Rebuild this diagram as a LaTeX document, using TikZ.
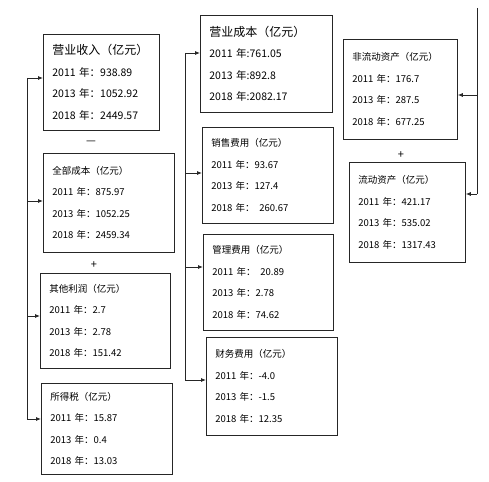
\documentclass[tikz,border=0pt]{standalone}
\usepackage{fontspec}
\setmainfont{Noto Sans CJK SC}
\usetikzlibrary{arrows.meta}
\tikzset{
  valbox/.style={draw=black!85,line width=0.8pt,anchor=north west,align=left,inner xsep=9pt,inner ysep=0pt,font=\fontsize{9.5}{21.5}\selectfont},
  bigbox/.style={valbox,font=\fontsize{10.5}{21.5}\selectfont},
  busline/.style={line width=0.8pt,black!85},
  busarr/.style={-{Latex[length=5pt,width=4pt]},line width=0.8pt,black!85},
  opsign/.style={font=\fontsize{11}{11}\selectfont,inner sep=0pt}
}
\newcommand{\boxtitle}[1]{{\fontsize{12}{21.5}\selectfont #1}}

\begin{document}
\begin{tikzpicture}[x=1pt,y=-1pt]
  \useasboundingbox (0,0) rectangle (489,481);
  % left column
  \node[bigbox,text width=98pt,minimum height=96pt] (income) at (43,34) {\boxtitle{营业收入（亿元）}\\2011 年：938.89\\2013 年：1052.92\\2018 年：2449.57};
  \node[opsign] (minus) at (91,143) {—};
  \node[valbox,text width=113pt,minimum height=99pt] (totalcost) at (43,153) {全部成本（亿元）\\2011 年：875.97\\2013 年：1052.25\\2018 年：2459.34};
  \node[opsign] (plusl) at (94,265) {+};
  \node[valbox,text width=112pt,minimum height=95pt] (otherprofit) at (40,273) {其他利润（亿元）\\2011 年：2.7\\2013 年：2.78\\2018 年：151.42};
  \node[valbox,text width=113pt,minimum height=91pt] (incometax) at (41,383) {所得税（亿元）\\2011 年：15.87\\2013 年：0.4\\2018 年：13.03};
  % middle column
  \node[bigbox,text width=114pt,minimum height=97pt] (opcost) at (200,15) {\boxtitle{营业成本（亿元）}\\2011 年:761.05\\2013 年:892.8\\2018 年:2082.17};
  \node[valbox,text width=113pt,minimum height=96pt] (salesfee) at (202,127) {销售费用（亿元）\\2011 年：93.67\\2013 年：127.4\\2018 年：\enspace 260.67};
  \node[valbox,text width=112pt,minimum height=96pt] (adminfee) at (203,234) {管理费用（亿元）\\2011 年：\enspace 20.89\\2013 年：2.78\\2018 年：74.62};
  \node[valbox,text width=113pt,minimum height=98pt] (financefee) at (206,337) {财务费用（亿元）\\2011 年：-4.0\\2013 年：-1.5\\2018 年：12.35};
  % right column
  \node[valbox,text width=96pt,minimum height=100pt] (fixedasset) at (343,39) {非流动资产（亿元）\\2011 年：176.7\\2013 年：287.5\\2018 年：677.25};
  \node[opsign] (plusr) at (401,155) {+};
  \node[valbox,text width=98pt,minimum height=100pt] (curasset) at (349,162) {流动资产（亿元）\\2011 年：421.17\\2013 年：535.02\\2018 年：1317.43};
  % buses
  \coordinate (lb1) at (27,78);
  \coordinate (lb2) at (27,201);
  \coordinate (lb3) at (27,316);
  \coordinate (lb4) at (27,419);
  \coordinate (mb1) at (185,53);
  \coordinate (mb2) at (185,173);
  \coordinate (mb3) at (185,267);
  \coordinate (mb4) at (185,380);
  \coordinate (rbtop) at (477,8);
  \coordinate (rb1) at (477,95);
  \coordinate (rb2) at (477,194);
  \draw[busline] (lb1) -- (lb4);
  \draw[busline] (mb1) -- (mb4);
  \draw[busline] (rbtop) -- (rb2);
  \foreach \b/\t in {lb1/income,lb2/totalcost,lb3/otherprofit,lb4/incometax,mb1/opcost,mb2/salesfee,mb3/adminfee,mb4/financefee}
    \draw[busarr] (\b) -- (\b -| \t.west);
  \foreach \b/\t in {rb1/fixedasset,rb2/curasset}
    \draw[busarr] (\b) -- (\b -| \t.east);
\end{tikzpicture}
\end{document}
